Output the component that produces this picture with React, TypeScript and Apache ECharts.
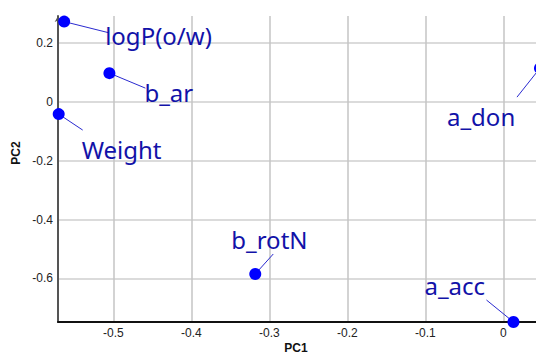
import React, { useEffect, useRef } from "react";
import * as echarts from "echarts";

// Variable loadings on the first two principal components
const variables = ["logP(o/w)", "b_ar", "Weight", "b_rotN", "a_acc", "a_don"];
const pc1 = [-0.563, -0.505, -0.570, -0.318, 0.013, 0.047];
const pc2 = [0.272, 0.097, -0.042, -0.585, -0.748, 0.114];

// Axis ranges and tick positions
const xRange = [-0.5709, 0.0419];
const yRange = [-0.748, 0.291];
const xTicks = [-0.5, -0.4, -0.3, -0.2, -0.1, 0];
const yTicks = [-0.6, -0.4, -0.2, 0, 0.2];

// Label placement relative to each point (pixels): text anchor and leader-line end
const labelOffsets: [number, number][] = [
  [41, 14], [35, 19], [23, 35], [-24, -34], [-89, -37], [-93, 48],
];
const leaderEnds: [number, number][] = [
  [44, 11], [36, 15], [24, 16], [18, -20], [-27, -22], [-23, 29],
];

const POINT = "#0000ff";
const LABEL = "#1212a8";
const LEADER = "#2a2ad0";

const fmt = (v: number) => {
  const r = Math.round(v * 10) / 10;
  return r === 0 ? "0" : String(r);
};

export default function App() {
  const ref = useRef<HTMLDivElement>(null);

  useEffect(() => {
    if (!ref.current) return;
    const chart = echarts.init(ref.current, undefined, { renderer: "svg" });
    const points = variables.map((_, i) => [pc1[i], pc2[i]]);

    const tickFont = {
      fontFamily: "'Liberation Sans', Arial, sans-serif",
      fontSize: 12,
      color: "#222",
    };

    chart.setOption({
      animation: false,
      grid: { left: 58, top: 16, right: 0, bottom: 32, containLabel: false },
      xAxis: {
        type: "value",
        min: xRange[0],
        max: xRange[1],
        axisLine: { show: true, onZero: false, lineStyle: { color: "#111", width: 2 } },
        axisTick: { show: false, customValues: xTicks },
        axisLabel: {
          ...tickFont,
          margin: 5,
          customValues: xTicks,
          formatter: (v: number) => fmt(v),
        },
        splitLine: {
          show: true,
          lineStyle: { color: "#c4c4c4", width: 1.5 },
        },
      },
      yAxis: {
        type: "value",
        min: yRange[0],
        max: yRange[1],
        axisLine: {
          show: true,
          onZero: false,
          symbol: ["none", "arrow"],
          symbolSize: [5, 6],
          lineStyle: { color: "#555", width: 2 },
        },
        axisTick: { show: false, customValues: yTicks },
        axisLabel: {
          ...tickFont,
          margin: 5,
          customValues: yTicks,
          formatter: (v: number) => fmt(v),
        },
        splitLine: {
          show: true,
          lineStyle: { color: "#cfcfcf", width: 1.5 },
        },
      },
      graphic: [
        {
          type: "text",
          x: 296,
          y: 348,
          style: {
            text: "PC1",
            font: "bold 12px 'Liberation Sans', Arial, sans-serif",
            fill: "#111",
            textAlign: "center",
            textVerticalAlign: "middle",
          },
        },
        {
          type: "text",
          x: 16,
          y: 153,
          rotation: Math.PI / 2,
          style: {
            text: "PC2",
            font: "bold 12px 'Liberation Sans', Arial, sans-serif",
            fill: "#111",
            textAlign: "center",
            textVerticalAlign: "middle",
          },
        },
      ],
      series: [
        {
          // leader lines and variable names
          type: "custom",
          data: points,
          encode: { x: 0, y: 1 },
          z: 2,
          clip: false,
          renderItem: (params: any, api: any) => {
            const i = params.dataIndex;
            const p = api.coord([api.value(0), api.value(1)]);
            const [lx, ly] = leaderEnds[i];
            const [tx, ty] = labelOffsets[i];
            return {
              type: "group",
              children: [
                {
                  type: "line",
                  shape: { x1: p[0], y1: p[1], x2: p[0] + lx, y2: p[1] + ly },
                  style: { stroke: LEADER, lineWidth: 1 },
                },
                {
                  type: "text",
                  x: p[0] + tx,
                  y: p[1] + ty,
                  style: {
                    text: variables[i],
                    font: "24px 'Noto Sans', 'Open Sans', sans-serif",
                    fill: LABEL,
                    textAlign: "left",
                    textVerticalAlign: "middle",
                  },
                },
              ],
            };
          },
        },
        {
          type: "scatter",
          data: points,
          symbol: "circle",
          symbolSize: 12,
          clip: false,
          z: 3,
          itemStyle: { color: POINT, opacity: 1 },
        },
      ],
    });

    return () => chart.dispose();
  }, []);

  return (
    <div
      ref={ref}
      style={{ position: "fixed", left: 0, top: 0, width: 536, height: 354, background: "#fff" }}
    />
  );
}
